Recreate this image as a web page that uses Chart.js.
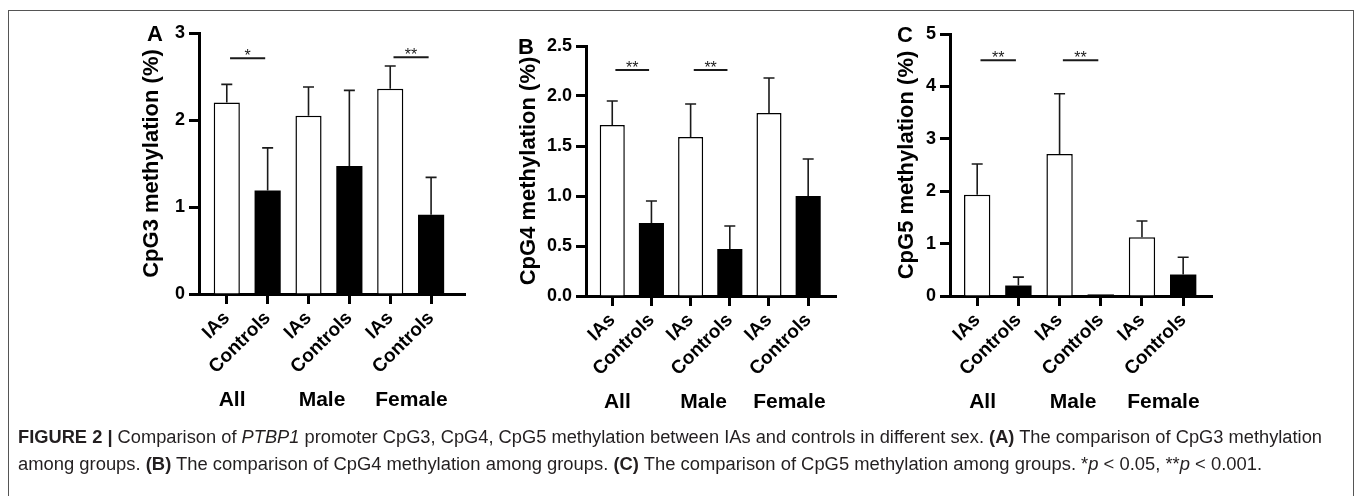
<!DOCTYPE html>
<html>
<head>
<meta charset="utf-8">
<script src="https://cdn.jsdelivr.net/npm/chart.js"></script>
<style>
  body { margin: 0; background: #fff; width: 1357px; height: 496px; overflow: hidden; position: relative; font-family: "Liberation Sans", Arial, sans-serif; }
  #frame { position: absolute; left: 8px; top: 10px; width: 1346px; height: 520px; border: 1.5px solid #555; box-sizing: border-box; }
  .panel { position: absolute; top: 0; height: 440px; }
  #caption { position: absolute; left: 18px; top: 424px; font-family: "Liberation Sans Narrow", "Arial Narrow", "Liberation Sans", sans-serif; font-size: 18px; line-height: 27px; color: #231f20; white-space: nowrap; }
  #caption span { display: inline-block; transform-origin: left center; }
</style>
</head>
<body>
<div id="frame"></div>
<div class="panel" style="left:135px; width:345px"><canvas id="chartA"></canvas></div>
<div class="panel" style="left:512px; width:338px"><canvas id="chartB"></canvas></div>
<div class="panel" style="left:890px; width:340px"><canvas id="chartC"></canvas></div>
<div id="caption">
  <span id="line1"><b>FIGURE 2 |</b> Comparison of <i>PTBP1</i> promoter CpG3, CpG4, CpG5 methylation between IAs and controls in different sex. <b>(A)</b> The comparison of CpG3 methylation</span><br>
  <span id="line2">among groups. <b>(B)</b> The comparison of CpG4 methylation among groups. <b>(C)</b> The comparison of CpG5 methylation among groups. *<i>p</i> &lt; 0.05, **<i>p</i> &lt; 0.001.</span>
</div>
<script>
// bar order on each x axis
const categories = ["IAs", "Controls", "IAs", "Controls", "IAs", "Controls"];
const groups = ["All", "Male", "Female"];

// CpG3 (A)
const cpg3Ias = [2.20, 2.05, 2.36];
const cpg3IasSd = [0.21, 0.33, 0.26];
const cpg3Ctrl = [1.19, 1.47, 0.91];
const cpg3CtrlSd = [0.49, 0.87, 0.43];
const cpg3Ticks = [0, 1, 2, 3];
const cpg3Sig = [{ group: 0, text: "*", y: 2.71 }, { group: 2, text: "**", y: 2.72 }];

// CpG4 (B)
const cpg4Ias = [1.71, 1.59, 1.83];
const cpg4IasSd = [0.24, 0.33, 0.35];
const cpg4Ctrl = [0.73, 0.47, 1.00];
const cpg4CtrlSd = [0.22, 0.23, 0.37];
const cpg4Ticks = [0, 0.5, 1.0, 1.5, 2.0, 2.5];
const cpg4Sig = [{ group: 0, text: "**", y: 2.26 }, { group: 1, text: "**", y: 2.26 }];

// CpG5 (C)
const cpg5Ias = [1.93, 2.71, 1.12];
const cpg5IasSd = [0.59, 1.15, 0.31];
const cpg5Ctrl = [0.20, 0.03, 0.41];
const cpg5CtrlSd = [0.16, 0, 0.33];
const cpg5Ticks = [0, 1, 2, 3, 4, 5];
const cpg5Sig = [{ group: 0, text: "**", y: 4.5 }, { group: 1, text: "**", y: 4.5 }];

const CANVAS_H = 440;
const groupPos = [0.13, 2.33, 4.52];

const extras = {
  id: "extras",
  afterDatasetsDraw(chart) {
    const { ctx, scales: { x, y } } = chart;
    ctx.save();
    ctx.strokeStyle = "#1a1a1a";
    ctx.lineWidth = 1.6;
    chart.data.datasets.forEach(ds => {
      ds.data.forEach((p, i) => {
        const sd = ds.sd[i];
        if (!sd) return;
        const px = x.getPixelForValue(p.x);
        const y0 = y.getPixelForValue(p.y);
        const y1 = y.getPixelForValue(p.y + sd);
        ctx.beginPath();
        ctx.moveTo(px, y0);
        ctx.lineTo(px, y1);
        ctx.moveTo(px - 5.5, y1);
        ctx.lineTo(px + 5.5, y1);
        ctx.stroke();
      });
    });
    ctx.restore();
  },
  afterDraw(chart, args, opts) {
    const { ctx, chartArea, scales: { x, y } } = chart;
    ctx.save();
    // significance bars
    ctx.strokeStyle = "#1a1a1a";
    ctx.fillStyle = "#1a1a1a";
    ctx.lineWidth = 2;
    ctx.textAlign = "center";
    ctx.textBaseline = "alphabetic";
    ctx.font = "16px 'Liberation Sans', Arial";
    opts.sig.forEach(s => {
      const x0 = x.getPixelForValue(s.group * 2 + 0.08);
      const x1 = x.getPixelForValue(s.group * 2 + 0.94);
      const py = y.getPixelForValue(s.y);
      ctx.beginPath();
      ctx.moveTo(x0, py);
      ctx.lineTo(x1, py);
      ctx.stroke();
      ctx.fillText(s.text, (x0 + x1) / 2, py + 3);
    });
    // group labels under the rotated tick labels
    ctx.fillStyle = "#000";
    ctx.font = "bold 21px 'Liberation Sans', Arial";
    ctx.textBaseline = "middle";
    groups.forEach((g, i) => {
      ctx.fillText(g, x.getPixelForValue(groupPos[i]), chartArea.bottom + 106);
    });
    // panel letter
    ctx.font = "bold 22px 'Liberation Sans', Arial";
    ctx.fillText(opts.letter, opts.letterX, chartArea.top + 2);
    ctx.restore();
  }
};

function makePanel(id, p) {
  const ias = p.ias.map((v, i) => ({ x: i * 2, y: v }));
  const ctrl = p.ctrl.map((v, i) => ({ x: i * 2 + 1, y: v }));
  new Chart(id, {
    type: "bar",
    data: {
      datasets: [
        { label: "IAs", data: ias, sd: p.iasSd, backgroundColor: "#fff", borderColor: "#000", borderWidth: 1.5 },
        { label: "Controls", data: ctrl, sd: p.ctrlSd, backgroundColor: "#000", borderColor: "#000", borderWidth: 0 }
      ]
    },
    options: {
      responsive: true,
      maintainAspectRatio: false,
      animation: false,
      events: [],
      datasets: { bar: { grouped: false, barPercentage: 0.64, categoryPercentage: 1 } },
      layout: { padding: { left: 0, top: p.chartTop, right: p.canvasRight - p.chartRight, bottom: 0 } },
      plugins: {
        legend: { display: false },
        tooltip: { enabled: false },
        extras: { sig: p.sig, letter: p.letter, letterX: p.letterX }
      },
      scales: {
        x: {
          type: "linear",
          min: p.xMin,
          max: p.xMax,
          offset: false,
          grid: { offset: false, drawOnChartArea: false, tickLength: 10, tickWidth: 3, tickColor: "#000" },
          border: { color: "#000", width: 3 },
          ticks: {
            stepSize: 1,
            includeBounds: false,
            autoSkip: false,
            minRotation: 45,
            maxRotation: 45,
            padding: 3,
            color: "#000",
            font: { family: "'Liberation Sans', Arial", size: 19, weight: "bold" },
            callback: v => categories[v]
          },
          afterFit: s => { s.height = CANVAS_H - p.chartBottom; }
        },
        y: {
          min: 0,
          max: p.ticks[p.ticks.length - 1],
          grid: { drawOnChartArea: false, tickLength: 10, tickWidth: 3, tickColor: "#000" },
          border: { color: "#000", width: 3 },
          ticks: {
            stepSize: p.ticks[1] - p.ticks[0],
            padding: 4,
            color: "#000",
            font: { family: "'Liberation Sans', Arial", size: 18, weight: "bold" },
            callback: v => p.decimals ? v.toFixed(1) : v
          },
          title: {
            display: true,
            text: p.title,
            color: "#000",
            padding: { top: 4, bottom: 4 },
            font: { family: "'Liberation Sans', Arial", size: 22, weight: "bold" }
          },
          afterFit: s => { s.width = p.chartLeft - p.canvasLeft; }
        }
      }
    },
    plugins: [extras]
  });
}

makePanel("chartA", {
  letter: "A", letterX: 20, title: "CpG3 methylation (%)",
  ias: cpg3Ias, iasSd: cpg3IasSd, ctrl: cpg3Ctrl, ctrlSd: cpg3CtrlSd, ticks: cpg3Ticks, sig: cpg3Sig,
  decimals: false, xMin: -0.68, xMax: 5.83,
  canvasLeft: 135, canvasRight: 480, chartLeft: 199, chartRight: 465, chartTop: 33, chartBottom: 294
});
makePanel("chartB", {
  letter: "B", letterX: 14, title: "CpG4 methylation (%)",
  ias: cpg4Ias, iasSd: cpg4IasSd, ctrl: cpg4Ctrl, ctrlSd: cpg4CtrlSd, ticks: cpg4Ticks, sig: cpg4Sig,
  decimals: true, xMin: -0.67, xMax: 5.71,
  canvasLeft: 512, canvasRight: 850, chartLeft: 586, chartRight: 836, chartTop: 46, chartBottom: 296
});
makePanel("chartC", {
  letter: "C", letterX: 15, title: "CpG5 methylation (%)",
  ias: cpg5Ias, iasSd: cpg5IasSd, ctrl: cpg5Ctrl, ctrlSd: cpg5CtrlSd, ticks: cpg5Ticks, sig: cpg5Sig,
  decimals: false, xMin: -0.66, xMax: 5.7,
  canvasLeft: 890, canvasRight: 1230, chartLeft: 950, chartRight: 1212, chartTop: 34, chartBottom: 296
});

// fit caption lines to the printed width
const fitTo = { line1: 1304, line2: 1244 };
Object.keys(fitTo).forEach(k => {
  const el = document.getElementById(k);
  el.style.transform = "scaleX(" + (fitTo[k] / el.offsetWidth) + ")";
});
</script>
</body>
</html>
